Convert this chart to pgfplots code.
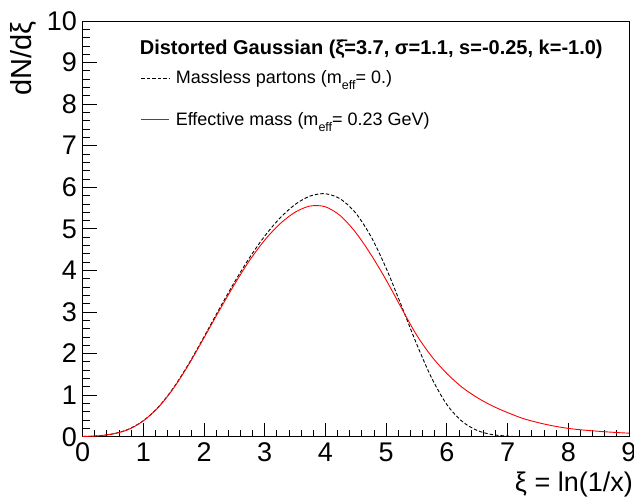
\documentclass[border=0pt]{standalone}
\usepackage{pgfplots}
\pgfplotsset{compat=1.18}
\usepackage{fontspec}
\setmainfont{Liberation Sans}
\newcommand{\sub}[1]{\raisebox{-6bp}{\fontsize{12.5bp}{12.5bp}\selectfont #1}}
\begin{document}
\begin{tikzpicture}
\begin{axis}[
  scale only axis,
  width=546.4bp, height=415.7bp,
  xmin=0, xmax=9, ymin=0, ymax=10,
  axis line style={line width=0.8bp},
  xtick={0,...,9}, ytick={0,...,10},
  minor tick num=4,
  tick align=inside,
  xtick pos=bottom, ytick pos=left,
  major tick length=14bp, minor tick length=7bp,
  every tick/.style={black, line width=0.8bp},
  /pgf/number format/assume math mode=true,
  ticklabel style={font=\fontsize{27bp}{30bp}\selectfont, inner sep=0pt},
  xticklabel style={yshift=-6bp},
  yticklabel style={xshift=-5.5bp},
  xlabel={ξ = ln(1/x)},
  xlabel style={at={(rel axis cs:1,0)}, anchor=north east, inner sep=0pt, xshift=4bp, yshift=-35bp, font=\fontsize{27bp}{30bp}\selectfont},
  ylabel={dN/dξ},
  ylabel style={at={(rel axis cs:0,1)}, anchor=south east, inner sep=0pt, yshift=45.6bp, font=\fontsize{29bp}{32bp}\selectfont},
  legend style={draw=none, fill=none, at={(axis cs:0.957,8.83)}, anchor=north west, inner sep=0pt, row sep=25bp, column sep=5bp, nodes={inner sep=1bp}, font=\fontsize{18bp}{21bp}\selectfont},
  legend cell align=left,
  legend image code/.code={\draw[#1] (0bp,0bp) -- (28bp,0bp);},
]
\coordinate (sw) at (rel axis cs:0,0);
\coordinate (ne) at (rel axis cs:1,1);
\addplot[black, line width=0.9bp, dash pattern=on 3.5bp off 2bp, smooth] coordinates {
(0,0.005) (0.25,0.021) (0.5,0.068) (0.75,0.177) (1.0,0.384) (1.25,0.717)
(1.5,1.183) (1.75,1.759) (2.0,2.404) (2.25,3.070) (2.5,3.715) (2.75,4.307)
(3.0,4.827) (3.25,5.258) (3.5,5.586) (3.75,5.791) (4.0,5.845)
(4.25,5.716) (4.5,5.377) (4.75,4.815) (5.0,4.053) (5.25,3.158)
(5.5,2.237) (5.75,1.410) (6.0,0.773) (6.25,0.370) (6.5,0.150) (6.75,0.050)
(7.0,0.014) (7.1,0.006)
};
\addlegendentry{Massless partons (m\sub{eff}= 0.)}
\addplot[red, line width=0.9bp, smooth] coordinates {
(0,0.005) (0.25,0.02) (0.5,0.068) (0.75,0.17) (1.0,0.38) (1.25,0.71)
(1.5,1.17) (1.75,1.74) (2.0,2.38) (2.25,3.03) (2.5,3.66) (2.75,4.24)
(3.0,4.73) (3.25,5.12) (3.5,5.40) (3.75,5.55) (4.0,5.53)
(4.25,5.31) (4.5,4.91) (4.75,4.38) (5.0,3.77) (5.25,3.10) (5.5,2.45)
(5.75,1.93) (6.0,1.52) (6.25,1.19) (6.5,0.94) (6.75,0.74) (7.0,0.58)
(7.25,0.44) (7.5,0.34) (7.75,0.26) (8.0,0.20) (8.25,0.16) (8.5,0.13)
(8.75,0.105) (9.0,0.085)
};
\addlegendentry{Effective mass (m\sub{eff}= 0.23 GeV)}
\node[anchor=west, inner sep=0pt, font=\bfseries\fontsize{20bp}{22bp}\selectfont] at (axis cs:0.94,9.33) {Distorted Gaussian (\={ξ}=3.7, σ=1.1, s=-0.25, k=-1.0)};
\end{axis}
\pgfresetboundingbox
\path[use as bounding box] ([shift={(-82.6bp,-60.3bp)}]sw) rectangle ([shift={(5bp,21bp)}]ne);
\end{tikzpicture}
\end{document}
